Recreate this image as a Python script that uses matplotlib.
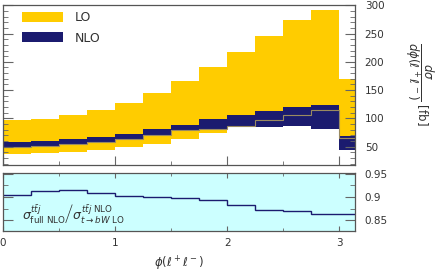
import numpy as np
import matplotlib
matplotlib.use("Agg")
import matplotlib.pyplot as plt
from matplotlib.patches import Patch
from matplotlib.ticker import MultipleLocator

# ---- data ----
edges = [0.0, 0.25, 0.5, 0.75, 1.0, 1.25, 1.5, 1.75, 2.0, 2.25, 2.5, 2.75, 3.0, np.pi]
lo_up = [97, 98.8, 105.3, 114.7, 127.6, 144.2, 165.9, 190.1, 217.1, 245.4, 273.7, 291.7, 168.9]
lo_lo = [36.4, 38.2, 40.5, 44.5, 49.3, 55.1, 63.4, 73.5, 84.1, 86.4, 86.9, 88.0, 58.0]
nlo_up = [57.6, 59.9, 63.4, 67.5, 71.7, 80.5, 88.2, 98.8, 105.8, 112.9, 119.4, 123.5, 69.3]
nlo_lo = [48.8, 51.0, 54.0, 58.7, 63.4, 70.5, 79.3, 81.6, 85.2, 85.2, 86.4, 80.5, 44.6]
nlo_c = [48.8, 51.0, 54.0, 58.7, 63.4, 70.5, 79.3, 81.6, 86.4, 96.5, 105.5, 114.0, 64.8]
ratio = [0.905, 0.913, 0.9145, 0.908, 0.903, 0.8995, 0.898, 0.8926, 0.882, 0.8725, 0.869, 0.864, 0.863]
legend_labels = ["LO", "NLO"]

GOLD = "#ffcc00"
NAVY = "#1b1b6f"
CYAN = "#ccffff"
SPINE = "#555555"
TXT = "#333333"

W, H = 436, 273
fig = plt.figure(figsize=(W / 100, H / 100), dpi=100)

def fx(px):
    return px / W

def fy(py):
    return 1 - py / H

ax = fig.add_axes([fx(3), fy(165), fx(355) - fx(3), fy(5) - fy(165)])
ax2 = fig.add_axes([fx(3), fy(231), fx(355) - fx(3), fy(172.7) - fy(231)])

# main panel
ax.stairs(lo_up, edges, baseline=lo_lo, fill=True, color=GOLD, lw=0)
ax.stairs(nlo_up, edges, baseline=nlo_lo, fill=True, color=NAVY, lw=0)
ax.stairs(nlo_c, edges, baseline=None, color="#9a8a60", lw=0.8)
ax.set_xlim(0, np.pi)
ax.set_ylim(17.6, 300.5)

handles = [Patch(facecolor=GOLD, edgecolor="none"), Patch(facecolor=NAVY, edgecolor="none")]
leg = ax.legend(handles, legend_labels, loc="upper left", bbox_to_anchor=(0.054, 0.962),
                frameon=False, fontsize=9, handlelength=3.3, handleheight=0.9,
                handletextpad=0.9, labelspacing=0.6, borderpad=0, borderaxespad=0)
for t in leg.get_texts():
    t.set_color(TXT)

# ratio panel
ax2.set_facecolor(CYAN)
ax2.stairs(ratio, edges, baseline=None, color=NAVY, lw=1.0)
ax2.set_xlim(0, np.pi)
ax2.set_ylim(0.827, 0.952)
ax2.text(0.054, 0.3, r"$\left.\sigma^{t\bar{t}j}_{\mathrm{full\ NLO}}\right/\sigma^{t\bar{t}j\ \mathrm{NLO}}_{t\to bW\ \mathrm{LO}}$",
         transform=ax2.transAxes, ha="left", va="center", fontsize=9, color=TXT)

for a in (ax, ax2):
    for s in a.spines.values():
        s.set_color(SPINE)
        s.set_linewidth(0.9)
    a.xaxis.set_major_locator(MultipleLocator(1))
    a.xaxis.set_minor_locator(MultipleLocator(0.5))

ax.yaxis.set_major_locator(MultipleLocator(50))
ax.yaxis.set_minor_locator(MultipleLocator(10))
ax2.yaxis.set_major_locator(MultipleLocator(0.05))
ax2.yaxis.set_minor_locator(MultipleLocator(0.025))

ax.tick_params(axis="x", which="both", direction="in", bottom=True, top=False,
               labelbottom=False, colors="#666666")
ax.tick_params(axis="x", which="major", length=6.5)
ax.tick_params(axis="x", which="minor", length=3)
ax.tick_params(axis="y", which="both", direction="in", left=True, right=True,
               labelleft=False, labelright=True, colors="#666666", labelcolor=TXT,
               labelsize=7.5, pad=7)
ax.tick_params(axis="y", which="major", length=7.2)
ax.tick_params(axis="y", which="minor", length=3.6)

ax2.tick_params(axis="x", which="both", direction="in", bottom=True, top=True,
                labelbottom=True, colors="#666666", labelcolor=TXT, labelsize=7.5, pad=5)
ax2.tick_params(axis="x", which="major", length=3.6)
ax2.tick_params(axis="x", which="minor", length=2.2)
ax2.tick_params(axis="y", which="both", direction="in", left=True, right=True,
                labelleft=False, labelright=True, colors="#666666", labelcolor=TXT,
                labelsize=7.5, pad=7)
ax2.tick_params(axis="y", which="major", length=7.2)
ax2.tick_params(axis="y", which="minor", length=3.6)
ax2.set_yticks([0.85, 0.9, 0.95])
ax2.set_yticklabels(["0.85", "0.9", "0.95"])

fig.text(fx(419), fy(84), r"$\dfrac{d\sigma}{d\phi(\ell^+\ell^-)}$ [fb]", rotation=-90,
         ha="center", va="center", fontsize=8.5, color=TXT)
fig.text(fx(179), fy(264), r"$\phi(\ell^+\ell^-)$", ha="center", va="center",
         fontsize=8.5, color=TXT)

fig.savefig("out.png", dpi=100)
